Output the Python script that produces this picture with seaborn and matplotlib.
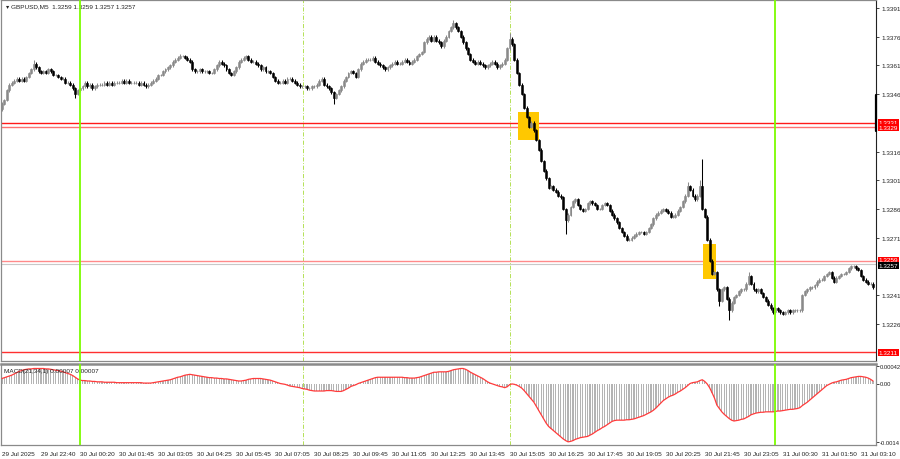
import numpy as np
import pandas as pd
import seaborn as sns
import matplotlib.pyplot as plt
from matplotlib.patches import Rectangle
import matplotlib.transforms as mtransforms

# %% data (prices in pips above 1.0000, 3345 -> 1.3345; MACD in 1e-5)
closes = [
    3341, 3343, 3348, 3351, 3352, 3353, 3354, 3353, 3354, 3353,
    3355, 3357, 3359, 3362, 3360, 3358, 3357, 3358, 3357, 3359,
    3358, 3356, 3356, 3355, 3354, 3354, 3352, 3352, 3351, 3349,
    3346, 3348, 3349, 3350, 3352, 3350, 3351, 3349, 3350, 3351,
    3351, 3351, 3352, 3351, 3352, 3351, 3352, 3352, 3352, 3353,
    3352, 3353, 3352, 3352, 3352, 3352, 3351, 3352, 3351, 3350,
    3351, 3352, 3353, 3354, 3356, 3356, 3358, 3359, 3360, 3361,
    3363, 3364, 3365, 3366, 3366, 3365, 3364, 3363, 3359, 3358,
    3358, 3359, 3358, 3358, 3358, 3357, 3357, 3359, 3361, 3363,
    3362, 3361, 3359, 3357, 3356, 3358, 3360, 3363, 3364, 3365,
    3366, 3364, 3363, 3363, 3362, 3361, 3359, 3360, 3358, 3358,
    3357, 3355, 3353, 3352, 3352, 3353, 3352, 3354, 3354, 3353,
    3352, 3351, 3350, 3350, 3350, 3349, 3349, 3350, 3350, 3351,
    3353, 3354, 3351, 3350, 3349, 3347, 3344, 3346, 3348, 3350,
    3353, 3355, 3357, 3358, 3357, 3355, 3359, 3362, 3363, 3364,
    3364, 3364, 3365, 3363, 3362, 3361, 3360, 3359, 3360, 3361,
    3362, 3363, 3362, 3362, 3363, 3364, 3363, 3362, 3363, 3364,
    3366, 3367, 3368, 3373, 3375, 3376, 3374, 3376, 3374, 3373,
    3371, 3374, 3376, 3379, 3381, 3383, 3381, 3379, 3376, 3373,
    3370, 3367, 3364, 3363, 3362, 3363, 3362, 3361, 3360, 3361,
    3362, 3363, 3362, 3360, 3361, 3362, 3364, 3370, 3375, 3372,
    3364, 3357, 3351, 3346, 3339, 3334, 3329, 3331, 3327, 3322,
    3317, 3311, 3306, 3302, 3297, 3298, 3296, 3295, 3293, 3292,
    3286, 3280, 3283, 3287, 3290, 3291, 3288, 3286, 3285, 3286,
    3289, 3290, 3289, 3288, 3286, 3286, 3288, 3289, 3288, 3285,
    3283, 3281, 3279, 3276, 3274, 3272, 3270, 3270, 3271, 3272,
    3273, 3274, 3274, 3273, 3274, 3276, 3278, 3281, 3283, 3284,
    3285, 3286, 3285, 3284, 3282, 3282, 3283, 3285, 3287, 3290,
    3293, 3298, 3296, 3293, 3291, 3293, 3298, 3286, 3282, 3270,
    3259, 3252, 3253, 3244, 3238, 3244, 3245, 3239, 3233, 3237,
    3240, 3241, 3243, 3244, 3244, 3247, 3251, 3247, 3244, 3243,
    3244, 3242, 3240, 3238, 3236, 3234, 3232, 3234, 3233, 3232,
    3231, 3232, 3233, 3232, 3233, 3233, 3233, 3233, 3241, 3243,
    3244, 3245, 3245, 3246, 3248, 3249, 3249, 3251, 3252, 3253,
    3250, 3248, 3250, 3251, 3252, 3252, 3253, 3255, 3256, 3256,
    3255, 3254, 3251, 3249, 3248, 3247, 3247, 3245,
]
first_open = 3338
spike_high = {13: 3364, 73: 3367, 185: 3385, 208: 3378, 281: 3300, 286: 3301, 287: 3312, 306: 3253}
spike_low = {0: 3337, 30: 3344, 136: 3341, 231: 3273, 294: 3235, 298: 3228}

macd = [
    12, 14, 16, 18, 20, 23, 26, 29, 31, 33,
    34, 35, 35, 36, 36, 36, 36, 36, 35, 35,
    34, 33, 32, 31, 30, 28, 26, 24, 22, 19,
    15, 11, 8, 7, 7, 6, 6, 5, 5, 4,
    4, 4, 3, 3, 3, 3, 3, 2, 2, 2,
    2, 2, 2, 2, 2, 2, 2, 2, 1, 1,
    1, 1, 2, 3, 4, 5, 6, 7, 8, 9,
    11, 13, 15, 16, 18, 20, 21, 22, 21, 20,
    19, 18, 17, 16, 15, 14, 14, 13, 13, 12,
    12, 11, 11, 10, 9, 8, 7, 6, 6, 7,
    8, 10, 11, 12, 12, 12, 12, 11, 10, 9,
    8, 6, 4, 2, 0, -1, -2, -4, -6, -7,
    -8, -9, -10, -12, -13, -14, -16, -17, -18, -18,
    -18, -18, -18, -17, -17, -17, -18, -19, -19, -19,
    -17, -14, -11, -7, -5, -3, 0, 2, 4, 6,
    8, 10, 12, 14, 15, 15, 15, 15, 15, 15,
    15, 15, 15, 15, 15, 14, 14, 13, 13, 13,
    14, 15, 17, 19, 21, 23, 25, 27, 27, 28,
    28, 28, 28, 29, 31, 33, 34, 35, 36, 36,
    34, 31, 27, 24, 21, 18, 15, 12, 8, 4,
    1, -1, -3, -5, -7, -8, -10, -8, -3, -1,
    -2, -4, -7, -11, -17, -24, -31, -38, -45, -55,
    -65, -75, -85, -95, -103, -108, -113, -118, -123, -128,
    -133, -137, -140, -139, -137, -134, -132, -130, -129, -128,
    -127, -124, -121, -117, -113, -110, -106, -103, -99, -95,
    -91, -89, -88, -88, -88, -88, -87, -87, -86, -85,
    -83, -81, -79, -77, -74, -71, -68, -64, -59, -53,
    -47, -41, -37, -33, -30, -28, -25, -21, -18, -14,
    -10, -5, 0, 2, 3, 4, 7, 9, 5, -1,
    -10, -22, -35, -52, -60, -68, -74, -79, -84, -88,
    -90, -89, -88, -86, -85, -82, -79, -75, -73, -71,
    -70, -69, -69, -68, -68, -68, -68, -67, -66, -66,
    -65, -64, -63, -62, -62, -61, -60, -58, -53, -49,
    -45, -40, -35, -30, -25, -20, -15, -10, -5, -2,
    1, 3, 4, 6, 8, 9, 10, 12, 14, 15,
    16, 17, 17, 16, 15, 13, 10, 6,
]

time_labels = ["29 Jul 2025", "29 Jul 22:40", "30 Jul 00:20", "30 Jul 01:45", "30 Jul 03:05",
               "30 Jul 04:25", "30 Jul 05:45", "30 Jul 07:05", "30 Jul 08:25", "30 Jul 09:45",
               "30 Jul 11:05", "30 Jul 12:25", "30 Jul 13:45", "30 Jul 15:05", "30 Jul 16:25",
               "30 Jul 17:45", "30 Jul 19:05", "30 Jul 20:25", "30 Jul 21:45", "30 Jul 23:05",
               "31 Jul 00:30", "31 Jul 01:50", "31 Jul 03:10"]
bars_per_label = 16

price_ticks = [1.3391, 1.3376, 1.3361, 1.3346, 1.3316, 1.3301, 1.3286, 1.3271, 1.3241, 1.3226]
levels = [1.3331, 1.3329, 1.3259, 1.3211]
level_colors = ['#ff1a1a', '#ff7070', '#ff8a8a', '#ff3030']
current_price = 1.3257
macd_ticks = [0.00042, 0.0, -0.0014]

green_lines = [32, 317]
dash_lines = [123.4, 208]
# yellow boxes: (bar start, bar end, price low, price high)
boxes = [(211.5, 220.0, 1.33220, 1.33366), (287.3, 292.6, 1.32494, 1.32677)]

# %% frame
df = pd.DataFrame({'close': np.array(closes) / 10000 + 1})
df['idx'] = np.arange(len(df))
df['open'] = df['close'].shift(1).fillna(first_open / 10000 + 1)
df['high'] = df[['open', 'close']].max(axis=1) + 0.00007
df['low'] = df[['open', 'close']].min(axis=1) - 0.00007
for k, v in spike_high.items():
    df.loc[k, 'high'] = v / 10000 + 1
for k, v in spike_low.items():
    df.loc[k, 'low'] = v / 10000 + 1
df['macd'] = np.array(macd) * 1e-5
df['bull'] = df['close'] >= df['open']

# %% plot
sns.set_style("white")
plt.rcParams['font.family'] = ['Liberation Sans Narrow', 'Liberation Sans', 'DejaVu Sans']
fs = 4.6

fig = plt.figure(figsize=(9, 4.6), dpi=100)
ax = fig.add_axes([1 / 900, 1 - 362 / 460, 875 / 900, 361 / 460])
axm = fig.add_axes([1 / 900, 1 - 446 / 460, 875 / 900, 81 / 460])
x_lo, x_hi = -0.41, 358.2

# levels and current price line
for lv, col in zip(levels, level_colors):
    ax.axhline(lv, color=col, lw=1.0, zorder=1)
ax.axhline(current_price, color='#c8c8c8', lw=0.8, zorder=1)

# yellow boxes
for b0, b1, p0, p1 in boxes:
    ax.add_patch(Rectangle((b0, p0), b1 - b0, p1 - p0, color='#ffc800', zorder=2, lw=0))

# candles
cols = np.where(df['bull'], '#8a8a8a', '#000000')
ax.vlines(df['idx'], df['low'], df['high'], colors=cols, lw=0.75, zorder=3)
ax.bar(df['idx'], (df['close'] - df['open']), bottom=df['open'], width=0.8,
       color=cols, edgecolor=cols, lw=0.4, zorder=4)

# vertical markers on both panels
for a in (ax, axm):
    for g in green_lines:
        a.axvline(g, color='#7cfc00', lw=1.3, zorder=5)
    for d in dash_lines:
        a.axvline(d, color='#a8dc3c', lw=0.6, ls=(0, (5, 2, 1, 2)), zorder=0.5)

ax.set_xlim(x_lo, x_hi)
ax.set_ylim(1.32065, 1.33952)
ax.set_xticks([])
ax.yaxis.tick_right()
ax.set_yticks(price_ticks)
ax.set_yticklabels([f"{p:.4f}" for p in price_ticks])
ax.tick_params(axis='y', labelsize=fs, length=2.5, width=0.6, pad=1.5, colors='#222222')

# right-side price labels
trans = mtransforms.blended_transform_factory(ax.transAxes, ax.transData)
for lv, txt, bg, dy in [(1.3331, "1.3331", '#ff0000', 0.00003), (1.3329, "1.3329", '#ff0000', -0.00004),
                        (1.3259, "1.3259", '#ff0000', 0.00003), (current_price, "1.3257", '#000000', -0.00004),
                        (1.3211, "1.3211", '#ff0000', 0.0)]:
    ax.text(1.003, lv + dy, txt, transform=trans, fontsize=fs, color='white', va='center', ha='left',
            bbox=dict(boxstyle='square,pad=0.15', fc=bg, ec='none'), clip_on=False, zorder=6)

ax.plot([0.9995, 0.9995], [1.33455, 1.33265], transform=trans, color='black', lw=1.6, clip_on=False, zorder=6)

ax.text(0.006, 0.992, "\u25be GBPUSD,M5  1.3259 1.3259 1.3257 1.3257", transform=ax.transAxes,
        fontsize=fs, va='top', ha='left', color='#222222')

for s in ['top', 'left', 'bottom']:
    ax.spines[s].set_color('#8a8a8a')
    ax.spines[s].set_linewidth(0.9)
ax.spines['right'].set_color('#222222')
ax.spines['right'].set_linewidth(0.8)

# MACD panel
axm.bar(df['idx'], df['macd'], width=0.5, color='#b4b4b4', lw=0, zorder=1)
sns.lineplot(data=df, x='idx', y='macd', ax=axm, color='#ff3b3b', lw=0.9, zorder=3)
axm.set_xlim(x_lo, x_hi)
axm.set_ylim(-0.001476, 0.000468)
axm.set_xlabel('')
axm.set_ylabel('')
axm.yaxis.tick_right()
axm.set_yticks(macd_ticks)
axm.set_yticklabels(["0.00042", "0.00", "-0.0014"])
axm.tick_params(axis='y', labelsize=4.2, length=2, width=0.6, pad=0.8, colors='#222222')
tick_pos = np.arange(len(time_labels)) * bars_per_label
axm.set_xticks(tick_pos)
axm.set_xticklabels(time_labels, ha='left')
axm.tick_params(axis='x', labelsize=fs, length=2.5, width=0.6, pad=1.5, colors='#222222')
axm.text(0.004, 0.95, "MACD(21,34,1) 0.00007 0.00007", transform=axm.transAxes,
         fontsize=fs, va='top', ha='left', color='#222222')
for s in ['top', 'left', 'bottom', 'right']:
    axm.spines[s].set_color('#8a8a8a')
    axm.spines[s].set_linewidth(0.9)
axm.spines['top'].set_linewidth(1.8)

fig.savefig("out.png", dpi=100)
